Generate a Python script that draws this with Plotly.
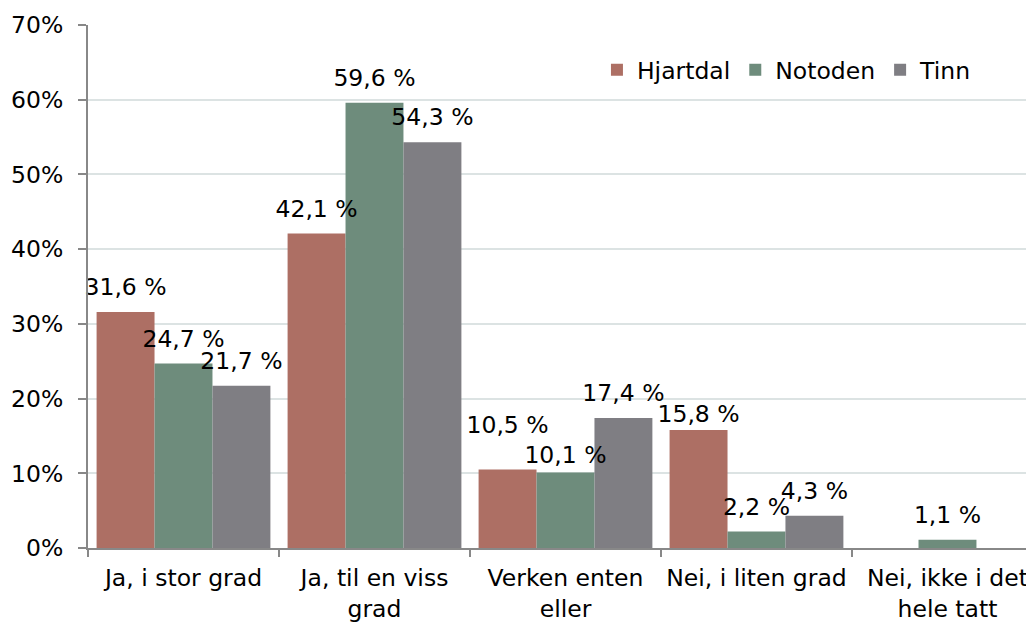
import plotly.graph_objects as go

categories = ["Ja, i stor grad", "Ja, til en viss<br>grad", "Verken enten<br>eller",
              "Nei, i liten grad", "Nei, ikke i det<br>hele tatt"]
series_names = ["Hjartdal", "Notoden", "Tinn"]
hjartdal = [31.6, 42.1, 10.5, 15.8, None]
notoden = [24.7, 59.6, 10.1, 2.2, 1.1]
tinn = [21.7, 54.3, 17.4, 4.3, None]
y_ticks = [0, 10, 20, 30, 40, 50, 60, 70]
y_tick_labels = [f"{v}%" for v in y_ticks]

# label lift (invisible marker size) per series, style only
label_lift = [
    [16, 16, 48, 2, 16],
    [16, 16, 4, 16, 16],
    [16, 16, 16, 16, 16],
]

colors = ["#AD6F64", "#6E8C7C", "#7F7E83"]
FONT = "DejaVu Sans, Arial, sans-serif"
FS = 23.5

def fmt(v):
    return "" if v is None else f"{v:.1f}".replace(".", ",") + " %"

fig = go.Figure()
for name, vals, col in zip(series_names, [hjartdal, notoden, tinn], colors):
    fig.add_trace(go.Bar(
        name=name, x=categories, y=vals, marker=dict(color=col, line=dict(width=0)),
        offsetgroup=name,
    ))
for name, vals, lift in zip(series_names, [hjartdal, notoden, tinn], label_lift):
    fig.add_trace(go.Scatter(
        x=categories, y=vals, mode="markers+text", text=[fmt(v) for v in vals],
        textposition="top center", textfont=dict(family=FONT, size=FS, color="#000000"),
        marker=dict(size=lift, opacity=0), showlegend=False, hoverinfo="skip",
        offsetgroup=name, cliponaxis=False,
    ))

fig.update_layout(
    width=1026, height=624,
    margin=dict(l=80, r=0, t=17, b=84, autoexpand=False),
    paper_bgcolor="white", plot_bgcolor="white",
    barmode="group", bargap=0.09, bargroupgap=0,
    scattermode="group", scattergap=0.09,
    font=dict(family=FONT, size=FS, color="#000000"),
    showlegend=True,
    legend=dict(orientation="h", x=0.538, xanchor="left", y=0.914, yanchor="middle",
                font=dict(family=FONT, size=FS, color="#000000"),
                bgcolor="rgba(0,0,0,0)", itemwidth=30, tracegroupgap=0),
)
fig.update_xaxes(
    range=[-0.5, 4.453], showline=True, linecolor="#888888", linewidth=2,
    ticks="outside", tickson="boundaries", ticklen=7, tickcolor="#888888", tickwidth=2,
    showgrid=False, ticklabelstandoff=8, automargin=False,
    tickfont=dict(family=FONT, size=FS, color="#000000"),
)
fig.update_yaxes(
    range=[0, 70], tickvals=y_ticks, ticktext=y_tick_labels,
    showline=True, linecolor="#888888", linewidth=2,
    ticks="outside", ticklen=8, tickcolor="#888888", tickwidth=2,
    showgrid=True, gridcolor="#DCE3E3", gridwidth=2, zeroline=False,
    ticklabelstandoff=10, automargin=False,
    tickfont=dict(family=FONT, size=FS, color="#000000"),
)

fig.write_html("out.html")
